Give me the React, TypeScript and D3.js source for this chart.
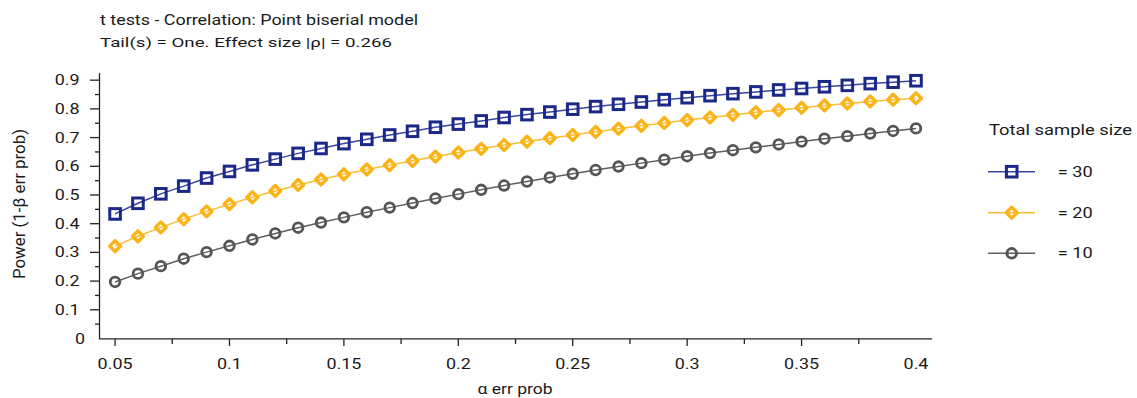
import React from "react";
import * as d3 from "d3";

const alphas = [0.05,0.06,0.07,0.08,0.09,0.10,0.11,0.12,0.13,0.14,0.15,0.16,0.17,0.18,0.19,0.20,0.21,0.22,0.23,0.24,0.25,0.26,0.27,0.28,0.29,0.30,0.31,0.32,0.33,0.34,0.35,0.36,0.37,0.38,0.39,0.40];
const power30 = [0.434,0.471,0.504,0.531,0.559,0.582,0.605,0.625,0.645,0.662,0.679,0.694,0.709,0.722,0.736,0.747,0.758,0.770,0.780,0.789,0.799,0.808,0.816,0.824,0.832,0.839,0.846,0.853,0.859,0.866,0.871,0.877,0.882,0.888,0.893,0.898];
const power20 = [0.322,0.356,0.387,0.416,0.443,0.468,0.492,0.514,0.535,0.554,0.572,0.589,0.604,0.619,0.634,0.648,0.661,0.674,0.686,0.698,0.709,0.720,0.731,0.741,0.751,0.761,0.770,0.779,0.788,0.796,0.804,0.812,0.819,0.826,0.832,0.837];
const power10 = [0.197,0.226,0.252,0.278,0.301,0.323,0.345,0.366,0.386,0.404,0.422,0.440,0.456,0.472,0.488,0.503,0.518,0.533,0.547,0.561,0.574,0.587,0.599,0.611,0.623,0.635,0.646,0.656,0.666,0.676,0.686,0.696,0.705,0.714,0.723,0.732];
const seriesLabels = ["= 30", "= 20", "= 10"];
const xTickLabels = ["0.05","0.1","0.15","0.2","0.25","0.3","0.35","0.4"];
const yTickLabels = ["0","0.1","0.2","0.3","0.4","0.5","0.6","0.7","0.8","0.9"];

const FONT = "Roboto, 'Liberation Sans', sans-serif";
const TXT = "#1a1a1a";

const x = d3.scaleLinear().domain([0.0432, 0.407]).range([99.5, 932]);
const y = d3.scaleLinear().domain([0, 0.925]).range([338.5, 73]);

const styles = [
  { marker: "#1a2888", line: "#3a469e", shape: "square" },
  { marker: "#fbb417", line: "#fbbd32", shape: "diamond" },
  { marker: "#555555", line: "#5e5e5e", shape: "circle" },
];

function Marker({ cx, cy, shape, color }: any) {
  if (shape === "square")
    return <rect x={cx - 5.3} y={cy - 5.3} width={10.6} height={10.6} fill="none" stroke={color} strokeWidth={3} />;
  if (shape === "diamond")
    return <path d={`M${cx},${cy - 5.4}L${cx + 5.4},${cy}L${cx},${cy + 5.4}L${cx - 5.4},${cy}Z`} fill="none" stroke={color} strokeWidth={3.4} strokeLinejoin="round" />;
  return <circle cx={cx} cy={cy} r={4.8} fill="none" stroke={color} strokeWidth={2.8} />;
}

function T({ x: tx, y: ty, anchor = "start", size = 14, sx = 1.28, children }: any) {
  return (
    <text transform={`translate(${tx},${ty}) scale(${sx},1)`} textAnchor={anchor} fontSize={size} fontFamily={FONT} fill={TXT}>
      {children}
    </text>
  );
}

export default function App() {
  const series = [power30, power20, power10];
  const line = d3.line<number>().x((_, i) => x(alphas[i])).y((d) => y(d));
  const yMajor = d3.range(1, 10).map((v) => v / 10);
  const yMinor = d3.range(0, 9).map((v) => v / 10 + 0.05);
  const xMajor = d3.range(0, 7).map((v) => 0.05 + v * 0.05);
  const xMinor = d3.range(0, 7).map((v) => 0.075 + v * 0.05);
  const legendY = [171.7, 212.7, 253.3];
  return (
    <svg width={1137} height={398} style={{ position: "absolute", left: 0, top: 0, background: "#fff" }}>
      <text x={100} y={25} fontSize={15.5} fontFamily={FONT} fill={TXT} textLength={318} lengthAdjust="spacingAndGlyphs">
        t tests - Correlation: Point biserial model
      </text>
      <text x={100} y={47} fontSize={13.5} fontFamily={FONT} fill={TXT} textLength={292} lengthAdjust="spacingAndGlyphs">
        Tail(s) = One. Effect size |ρ| = 0.266
      </text>

      {/* axes */}
      <line x1={99.5} x2={99.5} y1={73} y2={339} stroke="#222" strokeWidth={1.3} />
      <line x1={99} x2={932} y1={338.8} y2={338.8} stroke="#222" strokeWidth={1.3} />
      {yMajor.map((v) => (
        <line key={"ym" + v} x1={90} x2={99.5} y1={y(v)} y2={y(v)} stroke="#222" strokeWidth={1.3} />
      ))}
      {yMinor.map((v) => (
        <line key={"yn" + v} x1={95} x2={99.5} y1={y(v)} y2={y(v)} stroke="#222" strokeWidth={1.3} />
      ))}
      {xMajor.map((v) => (
        <line key={"xm" + v} x1={x(v)} x2={x(v)} y1={339} y2={346} stroke="#222" strokeWidth={1.3} />
      ))}
      {xMinor.map((v) => (
        <line key={"xn" + v} x1={x(v)} x2={x(v)} y1={339} y2={344} stroke="#222" strokeWidth={1.3} />
      ))}
      {yTickLabels.map((s, i) => (
        <T key={"yl" + s} x={i === 0 ? 85 : 79.5} y={y(i / 10) + 5} anchor="end">{s}</T>
      ))}
      {xTickLabels.map((s, i) => (
        <T key={"xl" + s} x={x(0.05 + i * 0.05)} y={369} anchor="middle">{s}</T>
      ))}
      <T x={515} y={394} anchor="middle" size={14} sx={1.25}>α err prob</T>
      <text transform="translate(25,204) rotate(-90) scale(1,1.2)" textAnchor="middle" fontSize={14} fontFamily={FONT} fill={TXT} textLength={150} lengthAdjust="spacingAndGlyphs">
        Power (1-β err prob)
      </text>

      {/* series */}
      {series.map((vals, si) => (
        <g key={"s" + si}>
          <path d={line(vals) || ""} fill="none" stroke={styles[si].line} strokeWidth={1.5} />
          {vals.map((v, i) => (
            <Marker key={i} cx={x(alphas[i])} cy={y(v)} shape={styles[si].shape} color={styles[si].marker} />
          ))}
        </g>
      ))}

      {/* legend */}
      <text x={989} y={135} fontSize={15} fontFamily={FONT} fill={TXT} textLength={143} lengthAdjust="spacingAndGlyphs">
        Total sample size
      </text>
      {seriesLabels.map((s, i) => (
        <g key={"lg" + i}>
          <line x1={988} x2={1035} y1={legendY[i]} y2={legendY[i]} stroke={styles[i].line} strokeWidth={1.5} />
          <Marker cx={1011.7} cy={legendY[i]} shape={styles[i].shape} color={styles[i].marker} />
          <T x={1057.7} y={legendY[i] + 5} size={14} sx={1.3}>{s}</T>
        </g>
      ))}
    </svg>
  );
}
